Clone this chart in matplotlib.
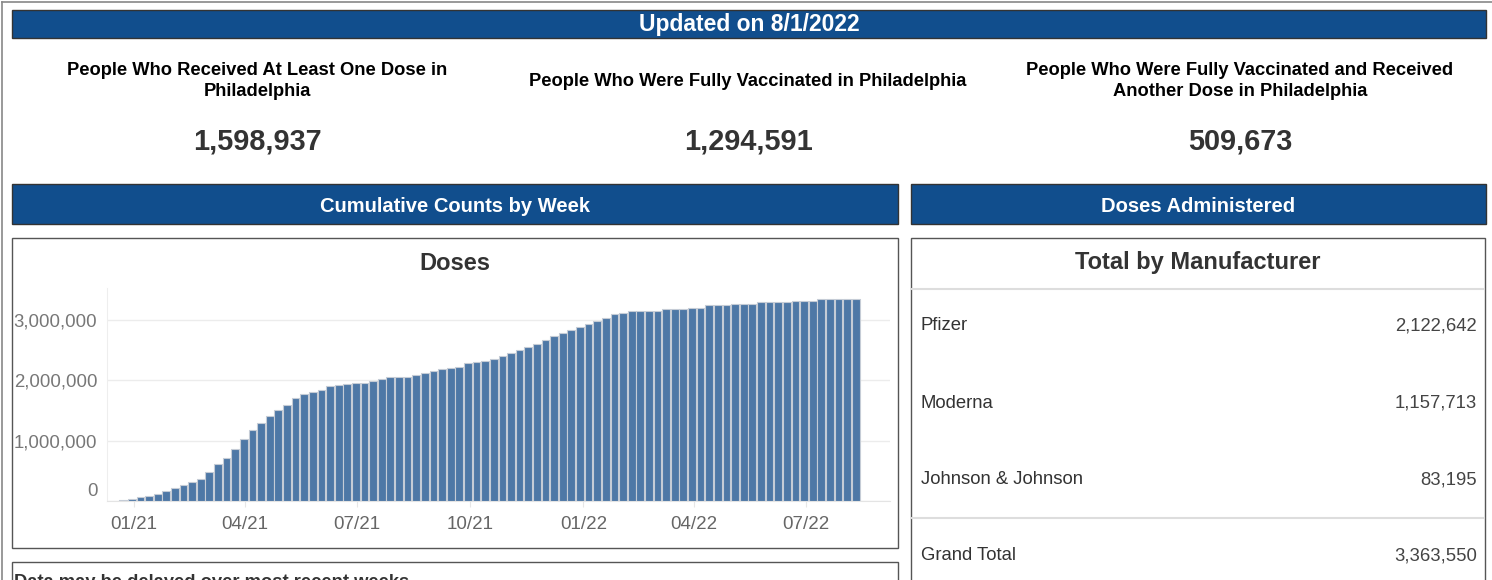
import pandas as pd
import matplotlib
matplotlib.use("Agg")
import matplotlib.pyplot as plt
import matplotlib.dates as mdates
import matplotlib.transforms as mtransforms
from matplotlib.patches import Rectangle
from matplotlib.ticker import FuncFormatter

plt.rcParams['font.family'] = ['Liberation Sans', 'DejaVu Sans']

# data
updated = "Updated on 8/1/2022"
kpi_titles = ["People Who Received At Least One Dose in\nPhiladelphia",
              "People Who Were Fully Vaccinated in Philadelphia",
              "People Who Were Fully Vaccinated and Received\nAnother Dose in Philadelphia"]
kpi_values = [1598937, 1294591, 509673]

week_start = "2020-12-20"
cum_doses = [10000, 25000, 70000, 80000, 110000, 165000, 220000, 260000,
             320000, 370000, 480000, 620000, 710000, 870000, 1030000, 1180000,
             1300000, 1410000, 1510000, 1590000, 1700000, 1770000, 1810000, 1840000,
             1900000, 1920000, 1940000, 1960000, 1960000, 1990000, 2020000, 2050000,
             2060000, 2060000, 2090000, 2120000, 2150000, 2180000, 2210000, 2220000,
             2280000, 2310000, 2320000, 2360000, 2400000, 2460000, 2510000, 2550000,
             2610000, 2660000, 2730000, 2790000, 2840000, 2880000, 2940000, 2990000,
             3040000, 3100000, 3115000, 3145000, 3145000, 3155000, 3155000, 3180000,
             3180000, 3180000, 3200000, 3200000, 3245000, 3245000, 3245000, 3265000,
             3265000, 3265000, 3290000, 3290000, 3290000, 3290000, 3310000, 3310000,
             3310000, 3340000, 3340000, 3340000, 3340000, 3345000]
x_ticks = ["2021-01-01", "2021-04-01", "2021-07-01", "2021-10-01",
           "2022-01-01", "2022-04-01", "2022-07-01"]
y_ticks = [0, 1000000, 2000000, 3000000]

manufacturers = ["Pfizer", "Moderna", "Johnson & Johnson", "Grand Total"]
manu_doses = [2122642, 1157713, 83195, 3363550]

W, H = 1492, 580
BLUE = '#114e8d'

fig = plt.figure(figsize=(W / 100, H / 100), dpi=100)

# page layer in pixel coordinates
page = fig.add_axes([0, 0, 1, 1])
page.set_xlim(0, W)
page.set_ylim(H, 0)
page.axis('off')


def box(x0, y0, x1, y1, fc='white', ec='#555555', lw=1.0):
    page.add_patch(Rectangle((x0, y0), x1 - x0, y1 - y0, facecolor=fc,
                             edgecolor=ec, linewidth=lw))


# outer frame
page.plot([2, 2], [2, H], color='#888888', lw=1.2)
page.plot([2, W], [2, 2], color='#888888', lw=1.2)

# header bars
box(12, 10, 1486, 38, fc=BLUE, ec='#333333')
page.text(749, 25, updated, color='white', fontsize=16.5, fontweight='bold',
          ha='center', va='center')
box(12, 184, 898, 224, fc=BLUE, ec='#333333')
page.text(455, 206, "Cumulative Counts by Week", color='white', fontsize=14.5,
          fontweight='bold', ha='center', va='center')
box(911, 184, 1486, 224, fc=BLUE, ec='#333333')
page.text(1198, 206, "Doses Administered", color='white', fontsize=14.5,
          fontweight='bold', ha='center', va='center')

# KPI row
for cx, t, v in zip([257, 748, 1240], kpi_titles, kpi_values):
    page.text(cx, 81, t, color='black', fontsize=13.2, fontweight='bold',
              ha='center', va='center', linespacing=1.35)
    page.text(cx, 142, f"{v:,}", color='#333333', fontsize=20.8,
              fontweight='bold', ha='center', va='center')

# panels
box(12, 238, 898, 548, ec='#555555')
page.text(455, 263, "Doses", color='#333333', fontsize=17,
          fontweight='bold', ha='center', va='center')
box(911, 238, 1485, 600, ec='#555555')
page.text(1198, 263, "Total by Manufacturer", color='#333333', fontsize=17,
          fontweight='bold', ha='center', va='center')
page.plot([912, 1484], [289, 289], color='#dddddd', lw=1.5)
page.plot([912, 1484], [518, 518], color='#dddddd', lw=1.5)
for yy, name, val in zip([326, 403, 480, 556], manufacturers, manu_doses):
    page.text(921, yy, name, color='#333333', fontsize=13.3, ha='left', va='center')
    page.text(1477, yy, f"{val:,}", color='#444444', fontsize=13.3,
              ha='right', va='center')

# footnote box, cut by the bottom edge as on the page
box(12, 562, 898, 600, ec='#555555')
page.text(14, 587, "Data may be delayed over most recent weeks", color='#333333',
          fontsize=13.2, fontweight='bold', ha='left', va='baseline')

# weekly cumulative doses chart
dates = pd.date_range(week_start, periods=len(cum_doses), freq='7D')
ax = fig.add_axes([107 / W, 1 - 501 / H, (890 - 107) / W, (501 - 288) / H])
ax.bar(mdates.date2num(dates), cum_doses, width=6.3, align='edge',
       color='#4e78a6', edgecolor='#c5ccd6', linewidth=0.8, zorder=3)
ax.set_xlim(mdates.date2num(pd.Timestamp("2020-12-10")),
            mdates.date2num(pd.Timestamp("2022-09-07")))
ax.set_ylim(0, 3530000)
ax.set_xticks(mdates.date2num(pd.to_datetime(x_ticks)))
ax.xaxis.set_major_formatter(mdates.DateFormatter('%m/%y'))
ax.set_yticks(y_ticks)
ax.yaxis.set_major_formatter(FuncFormatter(lambda v, p: f"{int(v):,}"))
ax.grid(axis='y', color='#ececec', lw=1, zorder=0)
for s in ['top', 'right']:
    ax.spines[s].set_visible(False)
ax.spines['left'].set_color('#eeeeee')
ax.spines['bottom'].set_color('#e4e4e4')
ax.tick_params(axis='x', length=4, color='#e6e6e6', pad=7, labelsize=13.5,
               labelcolor='#666666')
ax.tick_params(axis='y', length=0, pad=7, labelsize=13.4, labelcolor='#777777')
ax.set_facecolor('white')

# the zero label sits a little above its gridline
fig.canvas.draw()
zero_lbl = ax.get_yticklabels()[0]
zero_lbl.set_transform(zero_lbl.get_transform() +
                       mtransforms.ScaledTranslation(0, 0.11, fig.dpi_scale_trans))

fig.savefig("out.png", dpi=100)
